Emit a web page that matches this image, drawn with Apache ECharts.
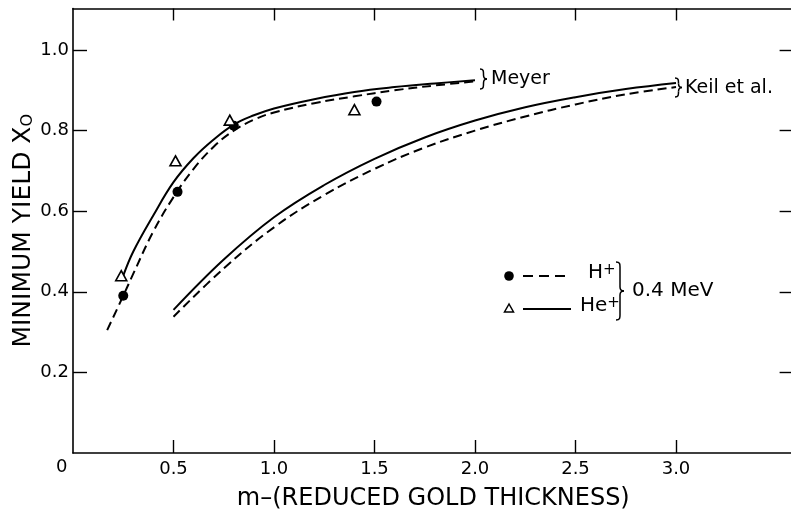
<!DOCTYPE html>
<html><head><meta charset="utf-8">
<script src="https://cdn.jsdelivr.net/npm/echarts@6/dist/echarts.min.js"></script>
<style>html,body{margin:0;padding:0;background:#fff}#c{width:791px;height:514px}</style>
</head><body><div id="c"></div>
<script>
// ---- data ----
const xTicks = [0.5, 1.0, 1.5, 2.0, 2.5, 3.0];
const yTicks = [0.2, 0.4, 0.6, 0.8, 1.0];
// Meyer theory curves
const meyerHe = [[0.25,0.44],[0.3,0.5],[0.4,0.59],[0.5,0.672],[0.6,0.732],[0.7,0.778],[0.8,0.815],[0.9,0.838],[1.0,0.855],[1.2,0.878],[1.4,0.896],[1.6,0.908],[1.8,0.917],[2.0,0.925]];
const meyerH  = [[0.17,0.305],[0.25,0.39],[0.3,0.445],[0.4,0.55],[0.5,0.635],[0.6,0.705],[0.7,0.76],[0.8,0.8],[0.9,0.827],[1.0,0.845],[1.2,0.868],[1.4,0.885],[1.6,0.9],[1.8,0.912],[2.0,0.922]];
// Keil et al. curves
const keilHe = [[0.5,0.355],[0.75,0.48],[1.0,0.585],[1.25,0.665],[1.5,0.73],[1.75,0.783],[2.0,0.825],[2.25,0.858],[2.5,0.883],[2.75,0.903],[3.0,0.918]];
const keilH  = [[0.5,0.338],[0.75,0.458],[1.0,0.56],[1.25,0.64],[1.5,0.705],[1.75,0.758],[2.0,0.8],[2.25,0.835],[2.5,0.865],[2.75,0.89],[3.0,0.908]];
// measured points
const ptsH  = [[0.25,0.39],[0.52,0.648],[0.80,0.812],[1.51,0.872]];
const ptsHe = [[0.24,0.44],[0.51,0.725],[0.78,0.826],[1.40,0.852]];

const FONT = 'DejaVu Sans';
const chart = echarts.init(document.getElementById('c'), null, {renderer:'canvas'});

function brace(x, y1, y2, w) {
  const ym = (y1 + y2) / 2;
  const st = {stroke:'#000', lineWidth:1.5, fill:null};
  return [
    {type:'bezierCurve', shape:{x1:x, y1:y1, cpx1:x+w, cpy1:y1, cpx2:x+w, cpy2:y1+2, x2:x+w, y2:y1+5}, style:st},
    {type:'line', shape:{x1:x+w, y1:y1+5, x2:x+w, y2:ym-4}, style:st},
    {type:'bezierCurve', shape:{x1:x+w, y1:ym-4, cpx1:x+w, cpy1:ym-1, cpx2:x+w+1, cpy2:ym, x2:x+2*w, y2:ym}, style:st},
    {type:'bezierCurve', shape:{x1:x+2*w, y1:ym, cpx1:x+w+1, cpy1:ym, cpx2:x+w, cpy2:ym+1, x2:x+w, y2:ym+4}, style:st},
    {type:'line', shape:{x1:x+w, y1:ym+4, x2:x+w, y2:y2-5}, style:st},
    {type:'bezierCurve', shape:{x1:x+w, y1:y2-5, cpx1:x+w, cpy1:y2-2, cpx2:x+w, cpy2:y2, x2:x, y2:y2}, style:st}
  ];
}

const lineBase = {type:'line', showSymbol:false, smooth:0.4, silent:true, z:3};
const axisLineStyle = {color:'#000', width:1.6};

chart.setOption({
  animation:false,
  backgroundColor:'#fff',
  grid:{left:73, top:8.5, width:720.6, height:444.5, outerBoundsMode:'none', containLabel:false},
  xAxis:[{
    type:'value', min:0, max:3.585, position:'bottom',
    axisLine:{show:true, onZero:false, lineStyle:axisLineStyle},
    axisTick:{show:true, inside:true, length:13, lineStyle:{color:'#000', width:1.4}, customValues:xTicks},
    axisLabel:{customValues:xTicks, formatter:v=>v.toFixed(1), color:'#000', fontFamily:FONT, fontSize:18, margin:7},
    splitLine:{show:false},
    name:'m–(REDUCED GOLD THICKNESS)', nameLocation:'middle', nameGap:34, nameMoveOverlap:false,
    nameTextStyle:{color:'#000', fontFamily:FONT, fontSize:24}
  },{
    type:'value', min:0, max:3.585, position:'top',
    axisLine:{show:true, onZero:false, lineStyle:axisLineStyle},
    axisTick:{show:true, inside:true, length:12, lineStyle:{color:'#000', width:1.4}, customValues:xTicks},
    axisLabel:{show:false}, splitLine:{show:false}
  }],
  yAxis:[{
    type:'value', min:0, max:1.103, position:'left',
    axisLine:{show:true, onZero:false, lineStyle:axisLineStyle},
    axisTick:{show:true, inside:true, length:14, lineStyle:{color:'#000', width:1.4}, customValues:yTicks},
    axisLabel:{customValues:yTicks, formatter:v=>v.toFixed(1), color:'#000', fontFamily:FONT, fontSize:18, margin:4},
    splitLine:{show:false},
    name:'MINIMUM YIELD X{sub|O}', nameLocation:'middle', nameGap:37, nameMoveOverlap:false,
    nameTextStyle:{color:'#000', fontFamily:FONT, fontSize:25,
      rich:{sub:{fontFamily:FONT, fontSize:16, color:'#000', verticalAlign:'bottom', lineHeight:6}}}
  },{
    type:'value', min:0, max:1.103, position:'right',
    axisLine:{show:true, onZero:false, lineStyle:axisLineStyle},
    axisTick:{show:true, inside:true, length:14, lineStyle:{color:'#000', width:1.4}, customValues:yTicks},
    axisLabel:{show:false}, splitLine:{show:false}
  }],
  series:[
    Object.assign({}, lineBase, {name:'Meyer He+', data:meyerHe, lineStyle:{color:'#000', width:2}}),
    Object.assign({}, lineBase, {name:'Meyer H+', data:meyerH, lineStyle:{color:'#000', width:2, type:[9,5]}}),
    Object.assign({}, lineBase, {name:'Keil He+', data:keilHe, lineStyle:{color:'#000', width:2}}),
    Object.assign({}, lineBase, {name:'Keil H+', data:keilH, lineStyle:{color:'#000', width:2, type:[9,5]}}),
    {type:'scatter', name:'H+', data:ptsH, symbol:'circle', symbolSize:10, itemStyle:{color:'#000', opacity:1}, z:5, silent:true},
    {type:'scatter', name:'He+', data:ptsHe, symbol:'triangle', symbolSize:[11,10], itemStyle:{color:'#fff', borderColor:'#000', borderWidth:1.6, opacity:1}, z:6, silent:true}
  ],
  graphic:[
    {type:'text', x:56, y:467, style:{text:'0', font:`18px "${FONT}"`, fill:'#000', verticalAlign:'middle'}},
    ...brace(480, 69, 89, 3.5),
    {type:'text', x:491, y:79, style:{text:'Meyer', font:`19px "${FONT}"`, fill:'#000', verticalAlign:'middle'}},
    ...brace(675, 78, 97, 3.5),
    {type:'text', x:685, y:88, style:{text:'Keil et al.', font:`19px "${FONT}"`, fill:'#000', verticalAlign:'middle'}},
    // legend
    {type:'circle', shape:{cx:509, cy:276, r:4.8}, style:{fill:'#000'}},
    {type:'line', shape:{x1:523, y1:276, x2:571, y2:276}, style:{stroke:'#000', lineWidth:2, lineDash:[10,6]}},
    {type:'text', x:588, y:283, style:{text:'H{sup|+}', font:`20px "${FONT}"`, fill:'#000', verticalAlign:'bottom',
      rich:{sup:{fontSize:15, fontFamily:FONT, verticalAlign:'top', lineHeight:8, fill:'#000'}}}},
    {type:'polygon', shape:{points:[[509,304],[504.5,312],[513.5,312]]}, style:{fill:'#fff', stroke:'#000', lineWidth:1.5}},
    {type:'line', shape:{x1:523, y1:309, x2:571, y2:309}, style:{stroke:'#000', lineWidth:2}},
    {type:'text', x:580, y:316, style:{text:'He{sup|+}', font:`20px "${FONT}"`, fill:'#000', verticalAlign:'bottom',
      rich:{sup:{fontSize:15, fontFamily:FONT, verticalAlign:'top', lineHeight:8, fill:'#000'}}}},
    ...brace(616, 262, 320, 4),
    {type:'text', x:632, y:291, style:{text:'0.4 MeV', font:`20px "${FONT}"`, fill:'#000', verticalAlign:'middle'}}
  ]
});
</script></body></html>
